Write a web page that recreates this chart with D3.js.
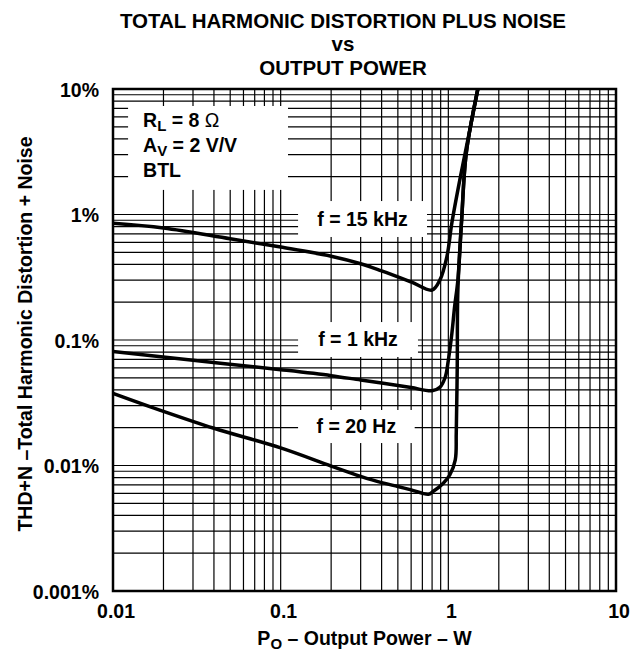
<!DOCTYPE html>
<html>
<head>
<meta charset="utf-8">
<script src="https://cdn.jsdelivr.net/npm/d3@7"></script>
<style>
  body { margin: 0; background: #fff; }
  text { font-family: "Liberation Sans", Arial, Helvetica, sans-serif; font-weight: bold; fill: #000; }
</style>
</head>
<body>
<div id="chart"></div>
<script>
// DATA ------------------------------------
const powerTicks = [0.01, 0.1, 1, 10];
const powerTickLabels = ["0.01", "0.1", "1", "10"];
const thdTicks = [0.001, 0.01, 0.1, 1, 10];
const thdTickLabels = ["0.001%", "0.01%", "0.1%", "1%", "10%"];

// f = 15 kHz
const power15k = [0.01, 0.02, 0.05, 0.1, 0.2, 0.3, 0.4, 0.6, 0.8, 0.89, 0.98, 1.05, 1.17, 1.26, 1.38, 1.5];
const thd15k   = [0.85, 0.78, 0.64, 0.55, 0.465, 0.405, 0.355, 0.29, 0.25, 0.30, 0.46, 0.86, 1.88, 3.08, 5.66, 10];

// f = 1 kHz
const power1k = [0.01, 0.03, 0.1, 0.2, 0.3, 0.4, 0.6, 0.8, 0.89, 0.96, 1.0, 1.05, 1.09, 1.14, 1.2, 1.28, 1.5];
const thd1k   = [0.081, 0.069, 0.058, 0.052, 0.048, 0.0455, 0.0418, 0.0394, 0.042, 0.051, 0.069, 0.113, 0.184, 0.30, 0.9, 3.1, 10];

// f = 20 Hz
const power20 = [0.01, 0.02, 0.04, 0.1, 0.2, 0.3, 0.4, 0.5, 0.6, 0.76, 0.81, 0.93, 1.02, 1.10, 1.115, 1.13, 1.14, 1.2, 1.28, 1.5];
const thd20   = [0.0376, 0.027, 0.0198, 0.0138, 0.0099, 0.0082, 0.0073, 0.0068, 0.0064, 0.0059, 0.0062, 0.0072, 0.0084, 0.0111, 0.0182, 0.061, 0.25, 0.9, 3.1, 10];

// white label boxes, in data units (power W, thd %)
const boxes = [
  {text: "f = 15 kHz", p: [0.127, 0.746], t: [1.28, 0.662]},
  {text: "f = 1 kHz",  p: [0.127, 0.659], t: [0.139, 0.0732]},
  {text: "f = 20 Hz",  p: [0.127, 0.63],  t: [0.0277, 0.0151]}
];
const legendBox = {p: [0.0123, 0.1106], t: [7.32, 1.57]};

// CHART INIT ------------------------------
const W = 638, H = 655;
const margin = ({top: 89, right: 22, bottom: 64, left: 113});
const width = W - margin.left - margin.right;
const height = H - margin.top - margin.bottom;

const root = d3.select("#chart").append("svg")
  .attr("width", W)
  .attr("height", H);

const svg = root.append("g")
  .attr("transform", "translate(" + margin.left + "," + margin.top + ")");

const xScale = d3.scaleLog().domain([0.01, 10]).range([0, width]);
const yScale = d3.scaleLog().domain([0.001, 10]).range([height, 0]);

// grid lines (every 1..9 per decade)
svg.append("g").selectAll("line")
  .data(xScale.ticks())
  .join("line")
  .attr("x1", d => xScale(d)).attr("x2", d => xScale(d))
  .attr("y1", 0).attr("y2", height)
  .attr("stroke", "#000").attr("stroke-width", 1.2);

svg.append("g").selectAll("line")
  .data(yScale.ticks())
  .join("line")
  .attr("y1", d => yScale(d)).attr("y2", d => yScale(d))
  .attr("x1", 0).attr("x2", width)
  .attr("stroke", "#000").attr("stroke-width", 1.2);

// white boxes behind the labels
svg.append("rect")
  .attr("x", xScale(legendBox.p[0]))
  .attr("y", yScale(legendBox.t[0]))
  .attr("width", xScale(legendBox.p[1]) - xScale(legendBox.p[0]))
  .attr("height", yScale(legendBox.t[1]) - yScale(legendBox.t[0]))
  .attr("fill", "#fff");

svg.append("g").selectAll("rect")
  .data(boxes)
  .join("rect")
  .attr("x", d => xScale(d.p[0]))
  .attr("y", d => yScale(d.t[0]))
  .attr("width", d => xScale(d.p[1]) - xScale(d.p[0]))
  .attr("height", d => yScale(d.t[1]) - yScale(d.t[0]))
  .attr("fill", "#fff");

svg.append("g").selectAll("text")
  .data(boxes)
  .join("text")
  .attr("x", d => (xScale(d.p[0]) + xScale(d.p[1])) / 2)
  .attr("y", d => (yScale(d.t[0]) + yScale(d.t[1])) / 2)
  .attr("dy", "0.35em")
  .attr("text-anchor", "middle")
  .style("font-size", "19.5px")
  .text(d => d.text);

// legend text
const lx = xScale(legendBox.p[0]) + 15;
const ly = yScale(legendBox.t[0]);
const leg = svg.append("g").style("font-size", "19.5px");
let t1 = leg.append("text").attr("x", lx).attr("y", ly + 21);
t1.append("tspan").text("R");
t1.append("tspan").attr("dy", 4).style("font-size", "15px").text("L");
t1.append("tspan").attr("dy", -4).text(" = 8 ");
t1.append("tspan").style("font-weight", "normal").text("\u03A9");
let t2 = leg.append("text").attr("x", lx).attr("y", ly + 46);
t2.append("tspan").text("A");
t2.append("tspan").attr("dy", 4).style("font-size", "15px").text("V");
t2.append("tspan").attr("dy", -4).text(" = 2 V/V");
leg.append("text").attr("x", lx).attr("y", ly + 71).text("BTL");

// curves
const line = d3.line()
  .x(d => xScale(d[0]))
  .y(d => yScale(d[1]))
  .curve(d3.curveCatmullRom.alpha(0.5));

svg.append("clipPath").attr("id", "clip")
  .append("rect").attr("width", width).attr("height", height);

const series = [
  d3.zip(power15k, thd15k),
  d3.zip(power1k, thd1k),
  d3.zip(power20, thd20)
];

svg.append("g").attr("clip-path", "url(#clip)")
  .selectAll("path")
  .data(series)
  .join("path")
  .attr("d", line)
  .attr("fill", "none")
  .attr("stroke", "#000")
  .attr("stroke-width", 3.5)
  .attr("stroke-linejoin", "round");

// frame
svg.append("rect")
  .attr("width", width).attr("height", height)
  .attr("fill", "none").attr("stroke", "#000").attr("stroke-width", 2.5);

// axes labels
svg.append("g").selectAll("text")
  .data(powerTicks)
  .join("text")
  .attr("x", d => xScale(d) + 3)
  .attr("y", height + 27)
  .attr("text-anchor", "middle")
  .style("font-size", "19.5px")
  .text((d, i) => powerTickLabels[i]);

svg.append("g").selectAll("text")
  .data(thdTicks)
  .join("text")
  .attr("x", -14)
  .attr("y", d => yScale(d))
  .attr("dy", "0.4em")
  .attr("text-anchor", "end")
  .style("font-size", "19.5px")
  .text((d, i) => thdTickLabels[i]);

// x-axis title
let xt = svg.append("text")
  .attr("x", width / 2)
  .attr("y", height + 54)
  .attr("text-anchor", "middle")
  .style("font-size", "19.5px");
xt.append("tspan").text("P");
xt.append("tspan").attr("dy", 4).style("font-size", "15px").text("O");
xt.append("tspan").attr("dy", -4).text(" \u2013 Output Power \u2013 W");

// y-axis title
root.append("text")
  .attr("transform", "translate(31.5," + 334 + ") rotate(-90)")
  .attr("text-anchor", "middle")
  .style("font-size", "19.5px")
  .text("THD+N \u2013Total Harmonic Distortion + Noise");

// chart title
const title = root.append("g")
  .attr("text-anchor", "middle")
  .style("font-size", "20.5px");
title.append("text").attr("x", 343).attr("y", 28).text("TOTAL HARMONIC DISTORTION PLUS NOISE");
title.append("text").attr("x", 343).attr("y", 51).text("vs");
title.append("text").attr("x", 343).attr("y", 75).text("OUTPUT POWER");
</script>
</body>
</html>
